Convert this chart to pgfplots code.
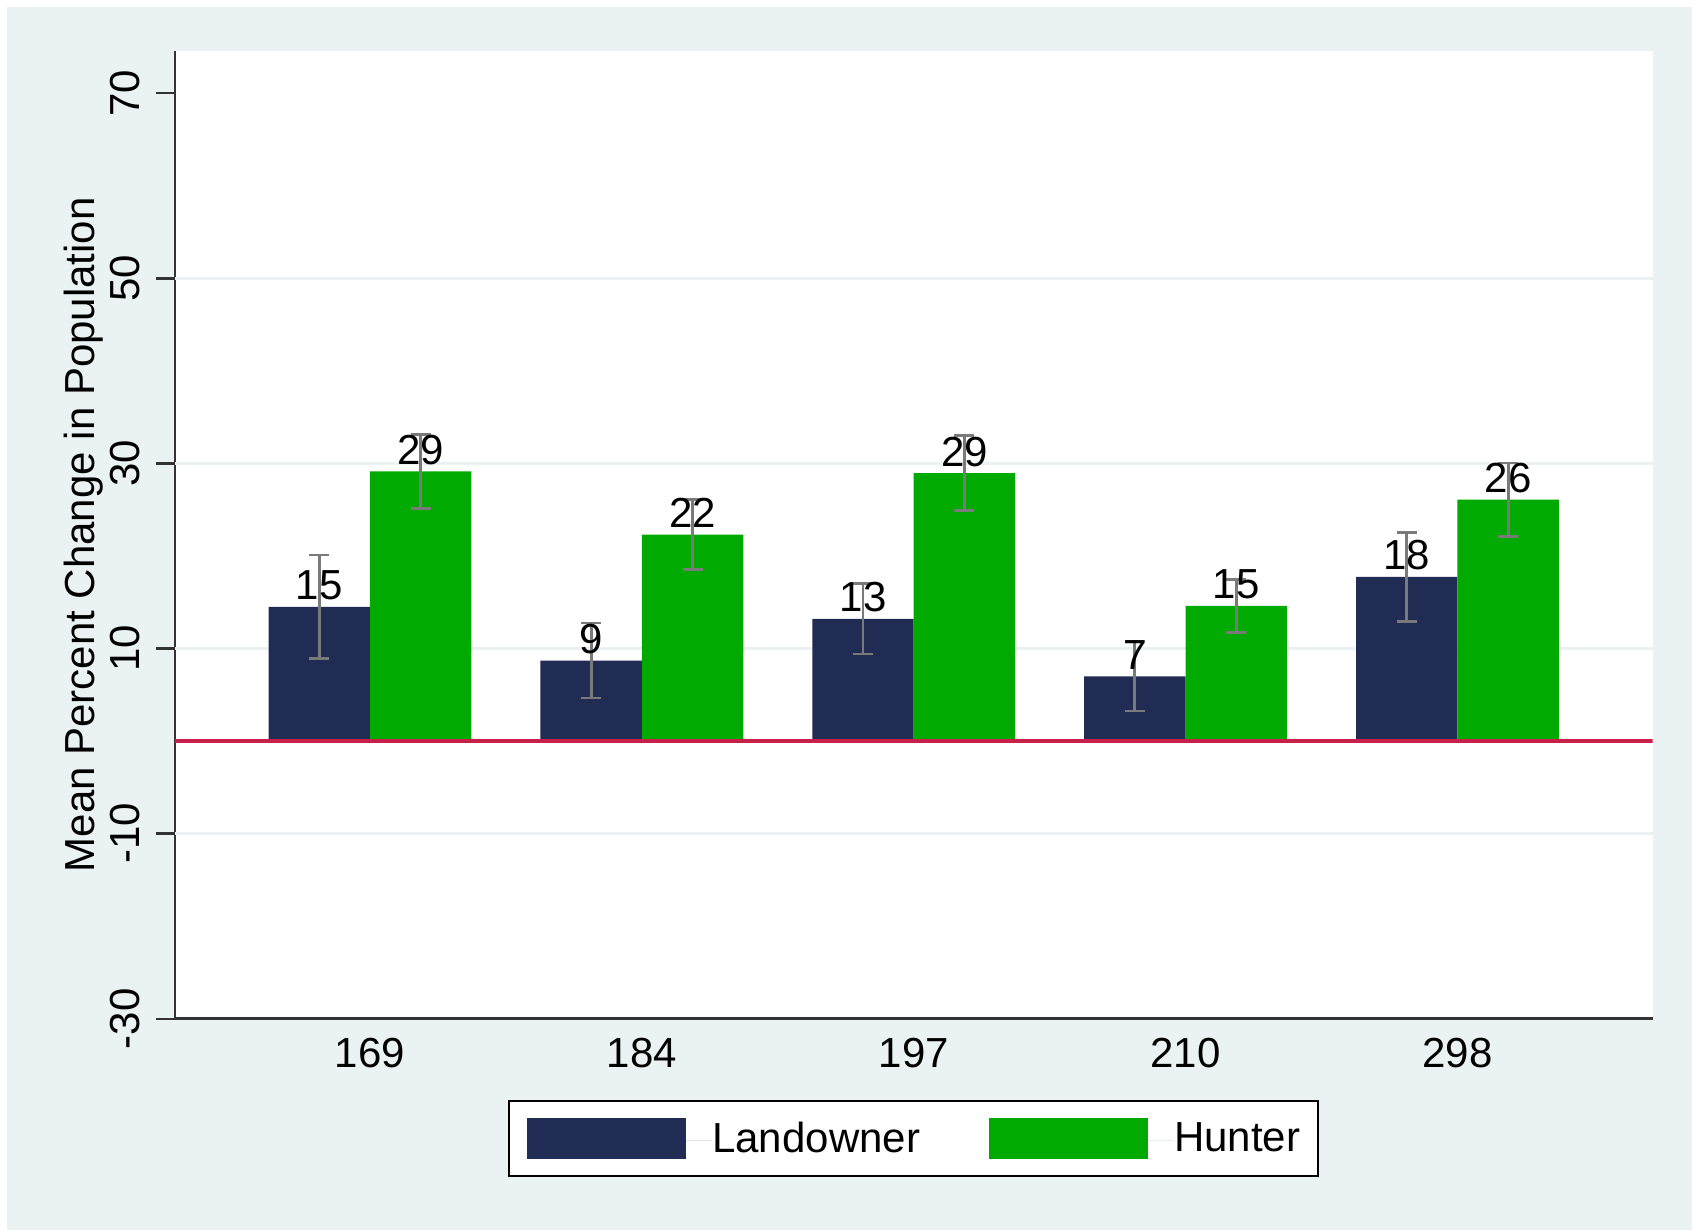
\documentclass[border=0pt]{standalone}
\usepackage{fontspec}
\setmainfont{Liberation Sans}
\usepackage{pgfplots}
\pgfplotsset{compat=1.18}
\usepackage{pgfplotstable}
\definecolor{bgc}{HTML}{EAF2F3}
\definecolor{navyc}{HTML}{202C54}
\definecolor{greenc}{HTML}{00AA00}
\definecolor{zeroc}{HTML}{C8204A}
\definecolor{errc}{HTML}{7A7A7A}
\definecolor{axc}{HTML}{333333}

\pgfplotstableread{
x y e lab
0 14.5 5.6 15
1 8.7 4.05 9
2 13.2 3.8 13
3 7.0 3.75 7
4 17.75 4.8 18
}\landowner
\pgfplotstableread{
x y e lab
0 29.15 4.0 29
1 22.3 3.8 22
2 28.95 4.05 29
3 14.6 2.85 15
4 26.1 3.95 26
}\hunter

\begin{document}
\fontsize{21}{25}\selectfont
\begin{tikzpicture}[font=\fontsize{21}{25}\selectfont]
\path[use as bounding box, fill=white] (0,0) rectangle (846pt,-615pt);
\fill[bgc] (3.5pt,-3.5pt) rectangle (846pt,-615pt);
\begin{axis}[
  at={(87.4pt,-509.35pt)}, anchor=south west,
  scale only axis, width=738.9pt, height=484pt,
  xmin=-0.718, xmax=4.718, ymin=-30, ymax=74.6,
  axis x line*=bottom, axis y line*=left,
  axis line style={axc, line width=1.3pt},
  axis background/.style={fill=white},
  ybar, bar width=0.373,
  xtick={0,1,2,3,4}, xticklabels={169,184,197,210,298},
  xtick style={draw=none},
  xticklabel style={anchor=north, inner sep=0pt, yshift=0pt},
  ytick={-30,-10,10,30,50,70}, yticklabels={-30,-10,10,30,50,70},
  tick align=outside, major tick length=9.5pt,
  ytick style={axc, line width=1.2pt},
  yticklabel style={rotate=90, anchor=south, inner sep=0pt},
  yticklabel shift=7.5pt,
  extra y ticks={-10,10,30,50}, extra y tick labels={},
  extra y tick style={grid=major, major tick length=0pt},
  grid style={bgc, line width=1.3pt},
  ylabel={Mean Percent Change in Population},
  every axis y label/.style={at={(axis description cs:-0.054,0.5)}, rotate=90, anchor=base},
  legend columns=2,
  legend style={at={(0.5,-0.0836)}, anchor=north, draw=black, line width=1pt, fill=white,
    inner xsep=9pt, inner ysep=8.6pt, nodes={inner sep=0pt, text=black},
    /tikz/every even column/.append style={column sep=34.5pt}},
]
\addplot[fill=navyc, draw=none, bar shift=-0.1865,
  nodes near coords={\pgfplotspointmeta},
  point meta=explicit symbolic,
  every node near coord/.append style={anchor=base, yshift=3.5pt, inner sep=0pt, text=black},
  legend image code/.code={\fill[navyc] (0pt,-9.25pt) rectangle (79.5pt,11.25pt); \path (0pt,0pt) -- (92.5pt,0pt);},
  error bars/.cd, y dir=both, y explicit,
  error bar style={errc, line width=1.4pt},
  error mark options={rotate=90, mark size=5pt, errc, line width=1.4pt}]
  table[x=x, y=y, y error=e, meta=lab] {\landowner};
\addlegendentry{Landowner}
\addplot[fill=greenc, draw=none, bar shift=0.1865,
  nodes near coords={\pgfplotspointmeta},
  point meta=explicit symbolic,
  every node near coord/.append style={anchor=base, yshift=3.5pt, inner sep=0pt, text=black},
  legend image code/.code={\fill[greenc] (0pt,-9.25pt) rectangle (79.5pt,11.25pt); \path (0pt,0pt) -- (92.5pt,0pt);},
  error bars/.cd, y dir=both, y explicit,
  error bar style={errc, line width=1.4pt},
  error mark options={rotate=90, mark size=5pt, errc, line width=1.4pt}]
  table[x=x, y=y, y error=e, meta=lab] {\hunter};
\addlegendentry{Hunter}
\addplot[sharp plot, zeroc, line width=1.6pt, forget plot] coordinates {(-0.718,0) (4.718,0)};
\end{axis}
\end{tikzpicture}
\end{document}
